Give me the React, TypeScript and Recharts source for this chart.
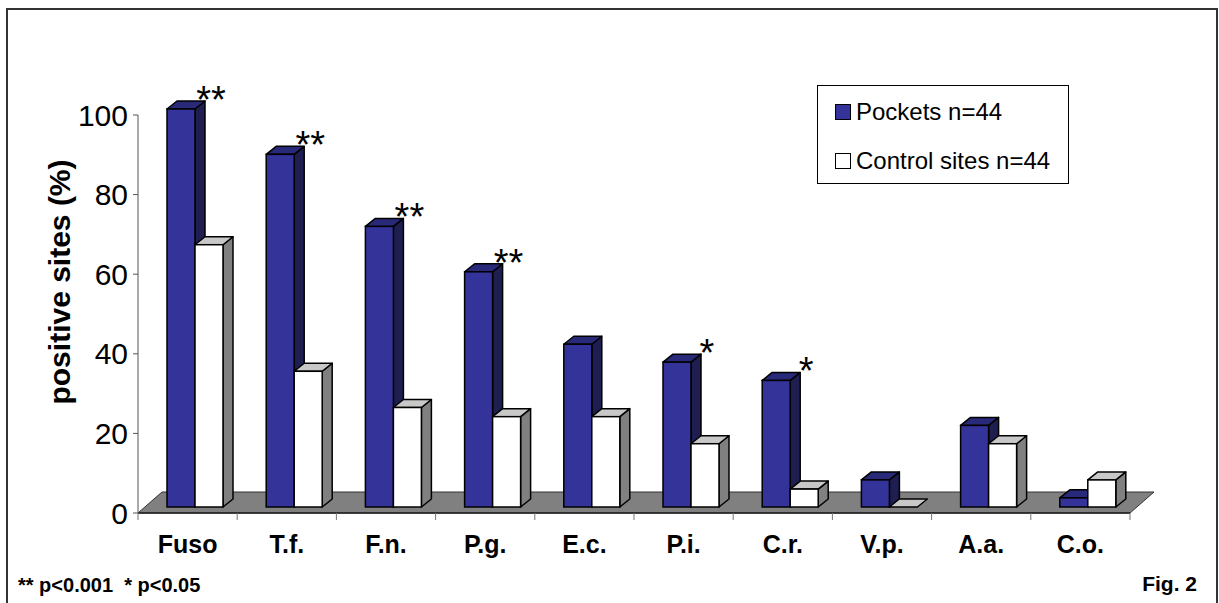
import {
  BarChart,
  Bar,
  XAxis,
  YAxis,
  Legend,
  LabelList,
  ReferenceArea,
} from "recharts";

const FONT = "Arial, 'Liberation Sans', Helvetica, sans-serif";

const categories = ["Fuso", "T.f.", "F.n.", "P.g.", "E.c.", "P.i.", "C.r.", "V.p.", "A.a.", "C.o."];
const pockets = [100, 88.6, 70.5, 59.1, 40.9, 36.4, 31.8, 6.8, 20.5, 2.3];
const controls = [65.9, 34.1, 25.0, 22.7, 22.7, 15.9, 4.5, 0, 15.9, 6.8];
const significance = ["**", "**", "**", "**", "", "*", "*", "", "", ""];
const seriesNames = ["Pockets n=44", "Control sites n=44"];
const yTicks = [0, 20, 40, 60, 80, 100];

const data = categories.map((name, i) => ({
  name,
  pockets: pockets[i],
  controls: controls[i],
  sig: significance[i],
}));

// fake 3d: bars sit a bit behind the front edge of the floor
const FRONT_DX = 7;
const FRONT_DY = 6;
const BAR_DX = 10;
const BAR_DY = 8;
const FLOOR_DX = 24;
const FLOOR_DY = 21;

const POCKET_FRONT = "#333399";
const POCKET_TOP = "#29297a";
const POCKET_SIDE = "#1e1e50";
const CONTROL_FRONT = "#ffffff";
const CONTROL_TOP = "#c8c8c8";
const CONTROL_SIDE = "#808080";

function make3DBar(front: string, top: string, side: string) {
  return function Bar3D(props: any) {
    const { x, y, width, height } = props;
    if (x == null || y == null) return null;
    const h = Math.max(height || 0, 0);
    const fx = x + FRONT_DX;
    const fy = y - FRONT_DY;
    const sidePts = `${fx + width},${fy} ${fx + width + BAR_DX},${fy - BAR_DY} ${fx + width + BAR_DX},${fy - BAR_DY + h} ${fx + width},${fy + h}`;
    const topPts = `${fx},${fy} ${fx + width},${fy} ${fx + width + BAR_DX},${fy - BAR_DY} ${fx + BAR_DX},${fy - BAR_DY}`;
    return (
      <g>
        {h > 0 && <polygon points={sidePts} fill={side} stroke="#000" strokeWidth={1.5} strokeLinejoin="round" />}
        <polygon points={topPts} fill={top} stroke="#000" strokeWidth={1.5} strokeLinejoin="round" />
        {h > 0 && <rect x={fx} y={fy} width={width} height={h} fill={front} stroke="#000" strokeWidth={1.5} />}
      </g>
    );
  };
}

function Floor(props: any) {
  const { x, y, width, height } = props;
  const by = y + height;
  const pts = `${x},${by} ${x + width},${by} ${x + width + FLOOR_DX},${by - FLOOR_DY} ${x + FLOOR_DX},${by - FLOOR_DY}`;
  return <polygon points={pts} fill="#808080" stroke="#333" strokeWidth={1} />;
}

function CategoryTick(props: any) {
  const { x, y, payload, index, visibleTicksCount } = props;
  const half = payload && payload.offset ? payload.offset : 49.6;
  const last = index === visibleTicksCount - 1;
  return (
    <g>
      <line x1={x - half} x2={x - half} y1={y - 7} y2={y} stroke="#777" />
      {last && <line x1={x + half} x2={x + half} y1={y - 7} y2={y} stroke="#777" />}
      <text x={x} y={y + 33} textAnchor="middle" fontFamily={FONT} fontWeight="bold" fontSize={25} fill="#000">
        {payload.value}
      </text>
    </g>
  );
}

function SigLabel(props: any) {
  const { x, y, width, value } = props;
  if (!value) return null;
  return (
    <text
      x={x + FRONT_DX + width + 16}
      y={y - FRONT_DY + 4}
      textAnchor="middle"
      fontFamily={FONT}
      fontSize={38}
      fill="#000"
    >
      {value}
    </text>
  );
}

function LegendBox(props: any) {
  const items = [...(props.payload || [])].sort(
    (a: any, b: any) => seriesNames.indexOf(a.value) - seriesNames.indexOf(b.value),
  );
  return (
    <div
      style={{
        position: "relative",
        width: 252,
        height: 99,
        boxSizing: "border-box",
        border: "1px solid #000",
        background: "#fff",
        fontFamily: FONT,
        fontSize: 24,
      }}
    >
      {items.map((entry: any, i: number) => (
        <div
          key={entry.value}
          style={{
            position: "absolute",
            left: 17,
            top: 9 + i * 49,
            height: 34,
            display: "flex",
            alignItems: "center",
            whiteSpace: "nowrap",
          }}
        >
          <span
            style={{
              display: "inline-block",
              width: 14,
              height: 14,
              border: "1.5px solid #000",
              background: entry.payload && entry.payload.fill ? entry.payload.fill : entry.color,
              marginRight: 5,
            }}
          />
          <span>{entry.value}</span>
        </div>
      ))}
    </div>
  );
}

export default function App() {
  return (
    <div
      style={{
        position: "fixed",
        left: 0,
        top: 0,
        width: 1219,
        height: 603,
        overflow: "hidden",
        background: "#fff",
      }}
    >
      <BarChart
        width={1219}
        height={603}
        data={data}
        margin={{ top: 115, right: 89, left: 58, bottom: 30 }}
        barGap={0}
        barSize={28}
      >
        <ReferenceArea y1={0} y2={100} shape={<Floor />} ifOverflow="visible" />
        <XAxis
          dataKey="name"
          height={60}
          axisLine={{ stroke: "#222", strokeWidth: 1.5 }}
          tickLine={false}
          tickSize={7}
          tickMargin={0}
          interval={0}
          tick={<CategoryTick />}
        />
        <YAxis
          width={80}
          domain={[0, 100]}
          ticks={yTicks}
          axisLine={{ stroke: "#555" }}
          tickLine={{ stroke: "#555" }}
          tickSize={5}
          tickMargin={5}
          tick={{ fontSize: 30, fill: "#000", fontFamily: FONT }}
        />
        <Legend
          layout="vertical"
          align="center"
          verticalAlign="middle"
          wrapperStyle={{ left: 817, top: 85, width: 252, height: 99 }}
          content={<LegendBox />}
        />
        <Bar
          dataKey="pockets"
          name={seriesNames[0]}
          fill={POCKET_FRONT}
          isAnimationActive={false}
          shape={make3DBar(POCKET_FRONT, POCKET_TOP, POCKET_SIDE)}
        >
          <LabelList dataKey="sig" content={<SigLabel />} />
        </Bar>
        <Bar
          dataKey="controls"
          name={seriesNames[1]}
          fill={CONTROL_FRONT}
          isAnimationActive={false}
          shape={make3DBar(CONTROL_FRONT, CONTROL_TOP, CONTROL_SIDE)}
        />
      </BarChart>
      <svg
        width={1219}
        height={603}
        style={{ position: "absolute", left: 0, top: 0, pointerEvents: "none" }}
      >
        <path d="M7,620 L7,9 L1217,9 L1217,620" fill="none" stroke="#333" strokeWidth={2} />
        <text
          transform="rotate(-90, 70, 282)"
          x={70}
          y={282}
          textAnchor="middle"
          fontFamily={FONT}
          fontWeight="bold"
          fontSize={30}
          fill="#000"
        >
          positive sites (%)
        </text>
        <text x={18} y={592} fontFamily={FONT} fontWeight="bold" fontSize={20} fill="#000" style={{ whiteSpace: "pre" }}>
          {"** p<0.001  * p<0.05"}
        </text>
        <text x={1197} y={591} textAnchor="end" fontFamily={FONT} fontWeight="bold" fontSize={21} fill="#000">
          Fig. 2
        </text>
      </svg>
    </div>
  );
}
